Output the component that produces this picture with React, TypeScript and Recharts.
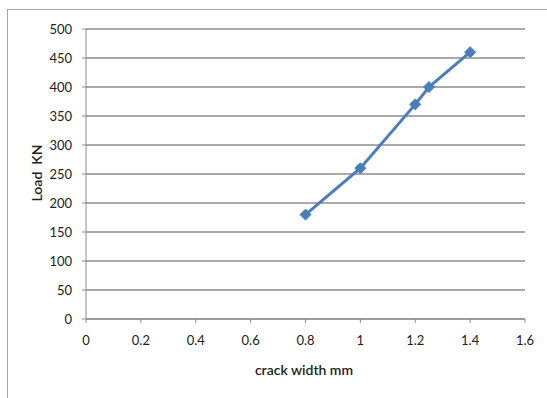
import React from "react";
import { CartesianGrid, Line, LineChart, XAxis, YAxis } from "recharts";

const crackWidth = [0.8, 1.0, 1.2, 1.25, 1.4];
const load = [180, 260, 370, 400, 460];
const xTicks = [0, 0.2, 0.4, 0.6, 0.8, 1, 1.2, 1.4, 1.6];
const yTicks = [0, 50, 100, 150, 200, 250, 300, 350, 400, 450, 500];

const data = crackWidth.map((w, i) => ({ w, load: load[i] }));

const FONT = "Lato, 'Open Sans', sans-serif";
const BLUE = "#4a7ebb";
const GRID = "#8c8c8c";

// diamond marker like the spreadsheet default
const Diamond = (props: any) => {
  const { cx, cy } = props;
  if (cx == null || cy == null) return null;
  const r = 5.5;
  return (
    <polygon
      points={`${cx},${cy - r} ${cx + r},${cy} ${cx},${cy + r} ${cx - r},${cy}`}
      fill={BLUE}
      stroke={BLUE}
      strokeWidth={1}
    />
  );
};

const tickStyle = { fontSize: 13, fill: "#222", fontFamily: FONT };

export default function App() {
  return (
    <div style={{ position: "fixed", left: 0, top: 0, width: 547, height: 398, background: "#fff", overflow: "hidden" }}>
      <div
        style={{
          position: "absolute",
          left: 7,
          top: 9,
          width: 600,
          height: 450,
          borderLeft: "1px solid #a6a6a6",
          borderTop: "1px solid #a6a6a6",
        }}
      />
      <LineChart
        width={547}
        height={398}
        data={data}
        margin={{ top: 29, right: 22, left: 46, bottom: 49 }}
        style={{ position: "absolute", left: 0, top: 0 }}
      >
        <CartesianGrid vertical={false} stroke={GRID} strokeWidth={1.3} />
        <XAxis
          dataKey="w"
          type="number"
          domain={[0, 1.6]}
          ticks={xTicks}
          tickSize={4}
          tickMargin={13}
          height={30}
          stroke={GRID}
          tick={tickStyle}
          allowDecimals
        />
        <YAxis
          type="number"
          domain={[0, 500]}
          ticks={yTicks}
          tickSize={4}
          tickMargin={10}
          width={40}
          stroke={GRID}
          tick={tickStyle}
          interval={0}
        />
        <Line
          dataKey="load"
          stroke={BLUE}
          strokeWidth={3}
          dot={<Diamond />}
          activeDot={false}
          isAnimationActive={false}
        />
      </LineChart>
      <div
        style={{
          position: "absolute",
          left: 204,
          top: 361,
          width: 200,
          textAlign: "center",
          fontFamily: FONT,
          fontSize: 14,
          fontWeight: 600,
          color: "#222",
        }}
      >
        crack width mm
      </div>
      <div
        style={{
          position: "absolute",
          left: 36,
          top: 173,
          transform: "translate(-50%, -50%) rotate(-90deg)",
          fontFamily: FONT,
          fontSize: 14,
          fontWeight: 600,
          color: "#222",
          whiteSpace: "pre",
        }}
      >
        {"Load  KN"}
      </div>
    </div>
  );
}
